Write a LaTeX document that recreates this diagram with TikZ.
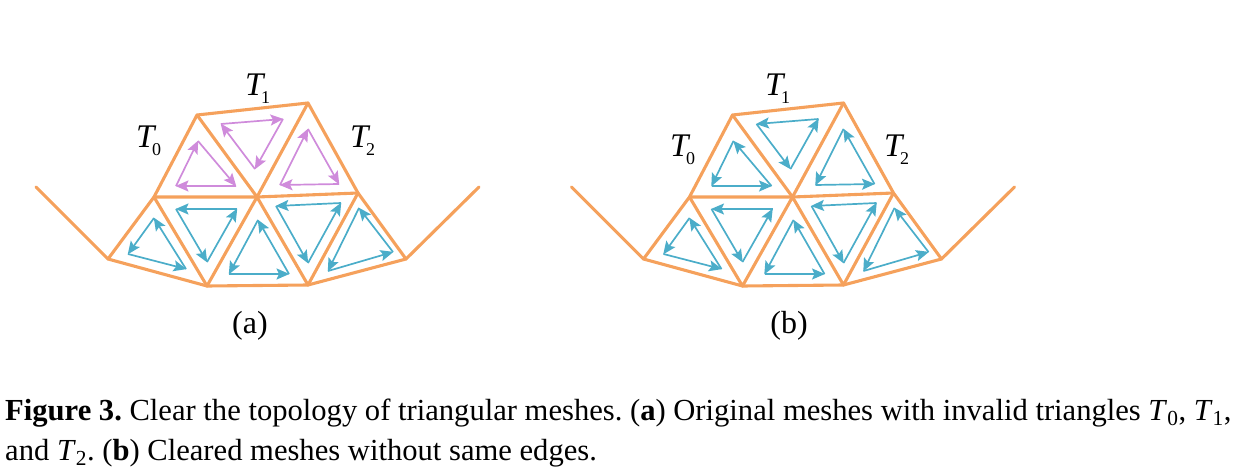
\documentclass[tikz,border=0pt]{standalone}
\usepackage{fontspec}
\setmainfont{Liberation Serif}
\usetikzlibrary{arrows.meta}
\definecolor{meshor}{HTML}{F5A15C}
\definecolor{blu}{HTML}{4BADC9}
\definecolor{pur}{HTML}{CF8BDB}
\tikzset{
  x=1pt,y=-1pt,
  edge/.style={draw=meshor,line width=3.1pt,line join=round,line cap=round},
  tarrow/.style={line width=1.7pt,-{Stealth[length=13pt,width=11pt,inset=2.5pt]},shorten >=-0.5pt},
  lab/.style={inner sep=0pt,anchor=base west,font=\fontsize{33}{33}\selectfont},
  sublabel/.style={inner sep=0pt,font=\fontsize{32}{32}\selectfont},
  captext/.style={inner sep=0pt,anchor=base west,font=\frenchspacing\fontsize{30.6}{31}\selectfont},
}
\newcommand{\tlab}[1]{\textit{T}\kern-4.3pt\raisebox{-8pt}{\fontsize{18}{18}\selectfont #1}}
% cycle of three arrows: #1 colour, then three named vertices with positions
\newcommand{\cyc}[7]{%
  \coordinate (#2) at #3; \coordinate (#4) at #5; \coordinate (#6) at #7;
  \draw[tarrow,#1] (#2) -- (#4);
  \draw[tarrow,#1] (#4) -- (#6);
  \draw[tarrow,#1] (#6) -- (#2);
}
\newcommand{\mesh}[1]{%
  \coordinate (#1L) at (36,187); \coordinate (#1A) at (108,259); \coordinate (#1B) at (207,286);
  \coordinate (#1C) at (154,197); \coordinate (#1D) at (197,115); \coordinate (#1E) at (257,197);
  \coordinate (#1F) at (308,103); \coordinate (#1G) at (358,193); \coordinate (#1H) at (308,285);
  \coordinate (#1I) at (406,259); \coordinate (#1J) at (479,187);
  \draw[edge] (#1L) -- (#1A) -- (#1B) -- (#1H) -- (#1I) -- (#1J);
  \draw[edge] (#1A) -- (#1C) -- (#1E) -- (#1G) -- (#1I);
  \draw[edge] (#1C) -- (#1B) -- (#1E) -- (#1H) -- (#1G) -- (#1F) -- (#1D) -- (#1C);
  \draw[edge] (#1D) -- (#1E) -- (#1F);
  \cyc{blu}{#1pa}{(186,269)}{#1pb}{(154,218)}{#1pc}{(128,254)}
  \cyc{blu}{#1qa}{(237,209)}{#1qb}{(176,209)}{#1qc}{(207,262)}
  \cyc{blu}{#1ra}{(289,274)}{#1rb}{(258,220)}{#1rc}{(229,274)}
  \cyc{blu}{#1sa}{(341,203)}{#1sb}{(276,206)}{#1sc}{(308,263)}
  \cyc{blu}{#1ta}{(393,252)}{#1tb}{(359,208)}{#1tc}{(328,271)}
}
\begin{document}
\begin{tikzpicture}
\useasboundingbox (0,0) rectangle (1240,468);
\mesh{a}
\cyc{pur}{u0}{(176,186)}{u1}{(198,141)}{u2}{(236,186)}
\cyc{pur}{v0}{(255,169)}{v1}{(221,124)}{v2}{(283,119)}
\cyc{pur}{w0}{(280,185)}{w1}{(308,129)}{w2}{(339,184)}
\begin{scope}[xshift=535.5pt]
\mesh{b}
\cyc{blu}{x0}{(236,186)}{x1}{(198,141)}{x2}{(176,186)}
\cyc{blu}{y0}{(283,119)}{y1}{(221,124)}{y2}{(255,169)}
\cyc{blu}{z0}{(339,184)}{z1}{(308,129)}{z2}{(280,185)}
\end{scope}
\node[lab] (t0a) at (136,148) {\tlab{0}};
\node[lab] (t1a) at (245,96) {\tlab{1}};
\node[lab] (t2a) at (350,148) {\tlab{2}};
\node[lab] (t0b) at (670,157) {\tlab{0}};
\node[lab] (t1b) at (765,96) {\tlab{1}};
\node[lab] (t2b) at (884,157) {\tlab{2}};
\node[sublabel] (capa) at (250,325.5) {(a)};
\node[sublabel] (capb) at (789,325.5) {(b)};
\node[captext] (c1) at (5,420) {\textbf{Figure 3.} Clear the topology of triangular meshes. (\textbf{a}) Original meshes with invalid triangles \textit{T}$_{\mathrm{0}}$, \textit{T}$_{\mathrm{1}}$,};
\node[captext] (c2) at (5,460) {and \textit{T}$_{\mathrm{2}}$. (\textbf{b}) Cleared meshes without same edges.};
\end{tikzpicture}
\end{document}
